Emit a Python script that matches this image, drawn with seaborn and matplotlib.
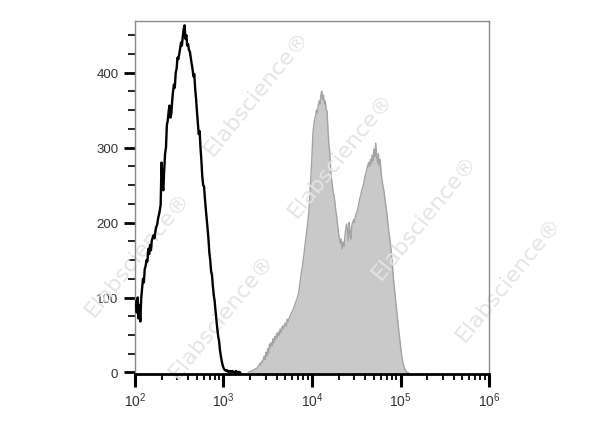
import numpy as np
import matplotlib
matplotlib.use("Agg")
import matplotlib.pyplot as plt
import matplotlib.ticker as mticker
import seaborn as sns

# isotype control histogram (black line), counts per bin, bins 0.01 decade wide from 10^2.00
ctrl_start = 2.00
ctrl_count = [
    88, 95, 80, 100, 72, 90, 68, 98, 112, 125,
    120, 138, 142, 150, 148, 165, 158, 170, 163, 176,
    180, 183, 179, 188, 194, 197, 205, 210, 216, 224,
    280, 252, 243, 270, 292, 300, 330, 336, 348, 356,
    340, 345, 362, 375, 384, 380, 400, 405, 420, 418,
    425, 432, 440, 436, 448, 458, 463, 445, 450, 436,
    438, 430, 428, 420, 412, 405, 395, 398, 378, 365,
    348, 333, 318, 322, 300, 283, 262, 250, 248, 232,
    218, 205, 192, 178, 160, 150, 135, 130, 115, 103,
    95, 82, 70, 58, 48, 42, 30, 22, 15, 10,
    6, 4, 3, 2, 3, 1, 2, 1, 2, 1,
    2, 1, 0, 1, 2, 1, 0, 1, 0, 0,
]

# stained sample histogram (grey fill), bins 0.01 decade wide from 10^3.28
stain_start = 3.28
stain_count = [
    0, 1, 1, 2, 2, 3, 3, 4, 5, 5,
    6, 8, 9, 12, 10, 15, 13, 18, 22, 17,
    27, 22, 32, 26, 38, 33, 40, 36, 45, 40,
    48, 44, 52, 47, 54, 50, 58, 53, 60, 62,
    58, 64, 66, 62, 71, 68, 72, 75, 78, 80,
    82, 85, 88, 92, 95, 98, 102, 107, 116, 124,
    134, 140, 150, 158, 169, 178, 188, 198, 209, 225,
    245, 268, 290, 318, 330, 338, 342, 350, 346, 356,
    362, 358, 370, 375, 364, 370, 358, 362, 352, 348,
    325, 305, 295, 272, 258, 250, 240, 236, 226, 215,
    208, 196, 185, 180, 172, 178, 165, 174, 168, 180,
    190, 198, 190, 176, 200, 188, 178, 196, 200, 204,
    200, 208, 212, 215, 220, 226, 232, 236, 242, 246,
    250, 256, 262, 266, 272, 276, 280, 275, 284, 278,
    290, 282, 298, 288, 306, 290, 280, 292, 276, 284,
    268, 258, 250, 244, 236, 226, 218, 208, 196, 186,
    178, 168, 155, 140, 126, 114, 102, 90, 80, 68,
    56, 46, 36, 26, 18, 12, 8, 4, 2, 1,
    0, 0,
]

y_ticks = [0, 100, 200, 300, 400]
watermark = "Elabscience®"

ctrl_x = 10 ** (ctrl_start + 0.01 * np.arange(len(ctrl_count)))
stain_x = 10 ** (stain_start + 0.01 * np.arange(len(stain_count)))

sns.set_style("white")
plt.rcParams["font.family"] = ["Liberation Sans", "DejaVu Sans"]

fig = plt.figure(figsize=(6, 4.27), dpi=100)
ax = fig.add_axes([0.225, 0.1218, 0.59, 0.827])

ax.fill_between(stain_x, stain_count, color="#c9c9c9", lw=0, zorder=1)
sns.lineplot(x=stain_x, y=stain_count, ax=ax, color="#a3a3a3", lw=1.0,
             estimator=None, sort=False, zorder=1.2)
sns.lineplot(x=ctrl_x, y=ctrl_count, ax=ax, color="black", lw=1.7,
             estimator=None, sort=False, zorder=3)

ax.set_xscale("log")
ax.set_xlim(1e2, 1e6)
ax.set_ylim(-2, 469)
ax.xaxis.set_major_locator(mticker.LogLocator(base=10, numticks=10))
ax.xaxis.set_minor_locator(mticker.LogLocator(base=10, subs=np.arange(2, 10), numticks=20))
ax.xaxis.set_minor_formatter(mticker.NullFormatter())
ax.set_yticks(y_ticks)
ax.yaxis.set_minor_locator(mticker.MultipleLocator(25))
ax.set_xlabel("")
ax.set_ylabel("")

ax.tick_params(axis="x", which="both", bottom=True)
ax.tick_params(axis="y", which="both", left=True)
ax.tick_params(axis="x", which="major", direction="out", length=9, width=2.2,
               color="black", labelsize=10, labelcolor="#333333", pad=3)
ax.tick_params(axis="x", which="minor", direction="out", length=4.5, width=1.3, color="black")
ax.tick_params(axis="y", which="major", direction="out", length=8, width=2.0,
               color="black", labelsize=9.5, labelcolor="#333333", pad=4)
ax.tick_params(axis="y", which="minor", direction="out", length=5, width=1.2, color="black")

for side in ["top", "right", "left"]:
    ax.spines[side].set_color("#8a8a8a")
    ax.spines[side].set_linewidth(1.0)
ax.spines["bottom"].set_color("black")
ax.spines["bottom"].set_linewidth(2.0)

# repeated diagonal watermark (pixel lattice from top-left corner),
# only the copies that fit fully inside the picture are kept
fig.canvas.draw()
renderer = fig.canvas.get_renderer()
W, H = fig.bbox.width, fig.bbox.height
for i in range(-6, 9):
    for j in range(-5, 7):
        px = 213 + 84 * i + 119 * j
        py = 157 + 62 * i - 161 * j
        if -220 < px < 640 and -40 < py < 620:
            t = ax.text(px / 600, 1 - py / 427, watermark, transform=fig.transFigure,
                        rotation=51, rotation_mode="anchor", ha="left", va="baseline",
                        fontsize=16, family="DejaVu Sans", color="#e4e4e4",
                        clip_on=False, zorder=2)
            bb = t.get_window_extent(renderer)
            if bb.x0 < 0 or bb.y0 < 0 or bb.x1 > W or bb.y1 > H:
                t.remove()

fig.savefig("out.png", dpi=100)
